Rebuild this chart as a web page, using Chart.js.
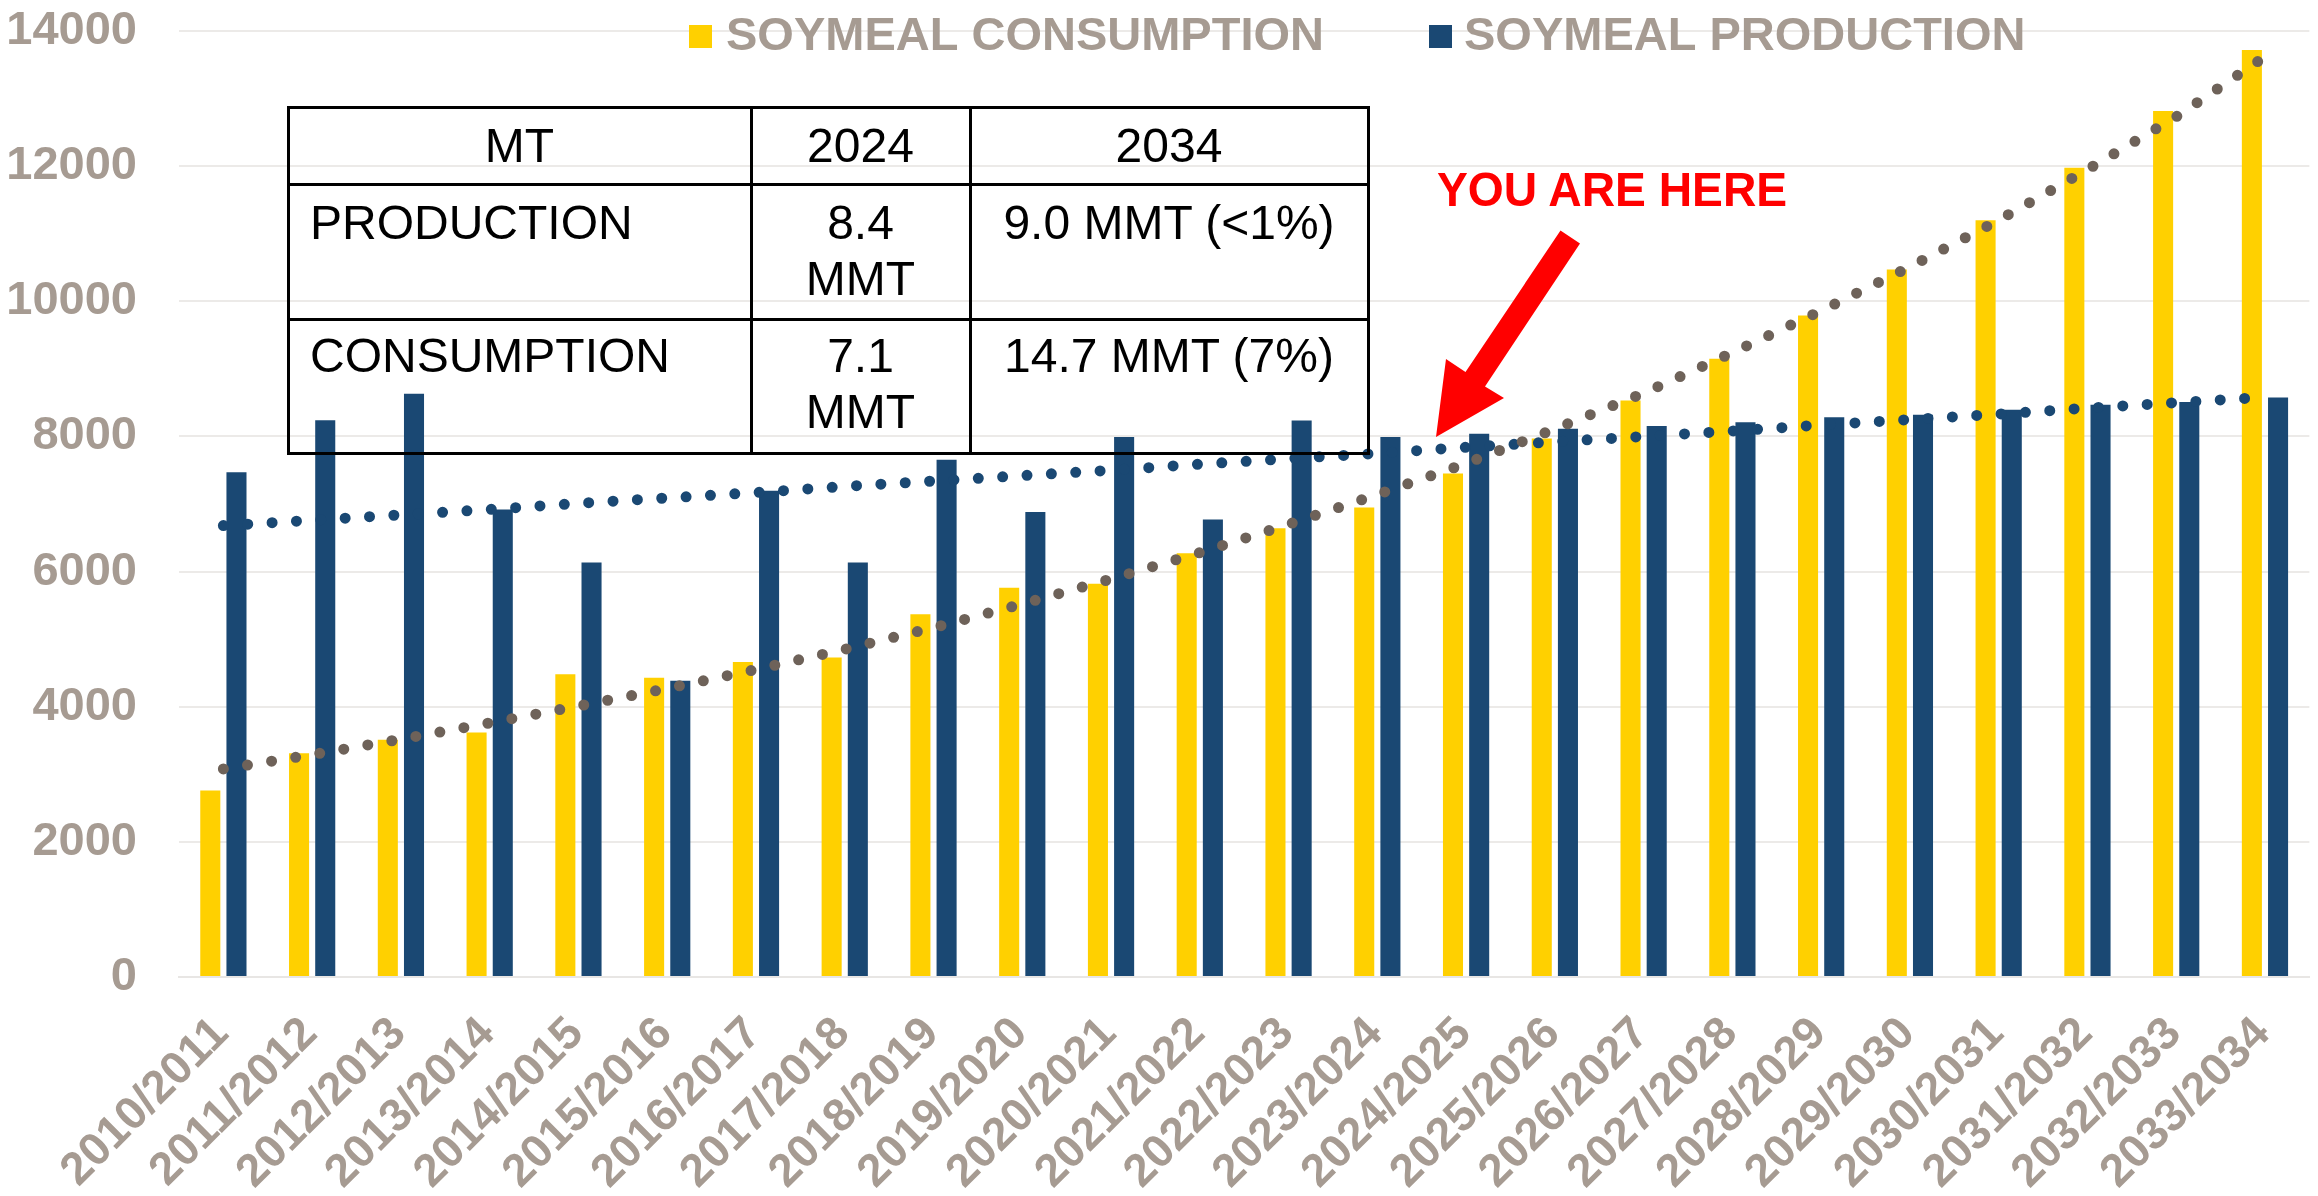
<!DOCTYPE html>
<html>
<head>
<meta charset="utf-8">
<script src="https://cdn.jsdelivr.net/npm/chart.js@4.4.1/dist/chart.umd.min.js"></script>
<style>
  html, body { margin: 0; padding: 0; overflow: hidden; background: #ffffff; }
  #wrap { position: relative; width: 2318px; height: 1196px; overflow: hidden; background: #fff; }
  #c { position: absolute; left: 0; top: 0; }
  .ln { position: absolute; background: #000; }
  .tx { position: absolute; font-family: "Liberation Sans", Arial, sans-serif; font-size: 48px; line-height: 56px; color: #000; white-space: nowrap; }
  .ctr { text-align: center; }
  #here { position: absolute; left: 1437px; top: 162px; font-family: "Liberation Sans", Arial, sans-serif; font-weight: bold; font-size: 48px; line-height: 56px; color: #ff0000; white-space: nowrap; transform: scaleX(0.963); transform-origin: left top; }
  #arrow { position: absolute; left: 0; top: 0; }
</style>
</head>
<body>
<div id="wrap">
  <canvas id="c" width="2334" height="1196"></canvas>

  <!-- summary table -->
  <div class="ln" style="left:287px;top:106px;width:1083px;height:3px;"></div>
  <div class="ln" style="left:287px;top:183px;width:1083px;height:3px;"></div>
  <div class="ln" style="left:287px;top:318px;width:1083px;height:3px;"></div>
  <div class="ln" style="left:287px;top:452px;width:1083px;height:3px;"></div>
  <div class="ln" style="left:287px;top:106px;width:3px;height:349px;"></div>
  <div class="ln" style="left:750px;top:106px;width:3px;height:349px;"></div>
  <div class="ln" style="left:969px;top:106px;width:3px;height:349px;"></div>
  <div class="ln" style="left:1367px;top:106px;width:3px;height:349px;"></div>

  <div class="tx ctr" style="left:288px;width:463px;top:118px;">MT</div>
  <div class="tx ctr" style="left:751px;width:219px;top:118px;">2024</div>
  <div class="tx ctr" style="left:970px;width:398px;top:118px;">2034</div>

  <div class="tx" style="left:310px;top:195px;">PRODUCTION</div>
  <div class="tx ctr" style="left:751px;width:219px;top:195px;">8.4<br>MMT</div>
  <div class="tx ctr" style="left:970px;width:398px;top:195px;">9.0 MMT (&lt;1%)</div>

  <div class="tx" style="left:310px;top:328px;">CONSUMPTION</div>
  <div class="tx ctr" style="left:751px;width:219px;top:328px;">7.1<br>MMT</div>
  <div class="tx ctr" style="left:970px;width:398px;top:328px;">14.7 MMT (7%)</div>

  <div id="here">YOU ARE HERE</div>
  <svg id="arrow" width="2318" height="1196">
    <polygon fill="#ff0000" points="1436,437 1504,398 1485,386.5 1580,243.5 1560.5,230.5 1465.5,372 1446,359"/>
  </svg>
</div>

<script>
const categories = ['2010/2011','2011/2012','2012/2013','2013/2014','2014/2015','2015/2016','2016/2017','2017/2018','2018/2019','2019/2020','2020/2021','2021/2022','2022/2023','2023/2024','2024/2025','2025/2026','2026/2027','2027/2028','2028/2029','2029/2030','2030/2031','2031/2032','2032/2033','2033/2034'];
const seriesNames = ['SOYMEAL CONSUMPTION', 'SOYMEAL PRODUCTION'];
const consumption = [2760, 3310, 3510, 3620, 4480, 4430, 4660, 4730, 5370, 5760, 5820, 6270, 6640, 6950, 7450, 7970, 8530, 9150, 9790, 10470, 11200, 11975, 12815, 13720];
const production = [7470, 8240, 8630, 6920, 6135, 4385, 7195, 6135, 7655, 6880, 7990, 6770, 8235, 7990, 8040, 8115, 8155, 8210, 8285, 8320, 8395, 8470, 8510, 8575];
const consumptionTrend = [3080, 3290, 3520, 3760, 4010, 4270, 4550, 4850, 5170, 5520, 5890, 6280, 6700, 7140, 7600, 8110, 8640, 9240, 9860, 10510, 11200, 11950, 12730, 13620];
const productionTrend = [6680, 6760, 6840, 6920, 7010, 7090, 7170, 7260, 7340, 7420, 7500, 7590, 7670, 7750, 7840, 7920, 8000, 8080, 8170, 8250, 8330, 8420, 8500, 8580];
const yTicks = [0, 2000, 4000, 6000, 8000, 10000, 12000, 14000];

const YELLOW = '#FFD000';
const BLUE = '#1A4873';
const TREND_GRAY = '#6E6259';
const LABEL_COLOR = '#A69B92';
const FONT = '"Liberation Sans", Arial, sans-serif';

const legendPlugin = {
  id: 'customLegend',
  afterDraw(chart) {
    const ctx = chart.ctx;
    const bars = chart.data.datasets.filter(d => d.type === 'bar');
    const spots = [{box: 689, text: 726}, {box: 1429, text: 1464}];
    ctx.save();
    ctx.font = 'bold 47px ' + FONT;
    ctx.textBaseline = 'alphabetic';
    ctx.textAlign = 'left';
    bars.forEach((d, i) => {
      ctx.fillStyle = d.backgroundColor;
      ctx.fillRect(spots[i].box, 25, 23, 23);
      ctx.fillStyle = LABEL_COLOR;
      ctx.fillText(d.label, spots[i].text, 49.5);
    });
    ctx.restore();
  }
};

new Chart(document.getElementById('c'), {
  type: 'bar',
  data: {
    labels: categories,
    datasets: [
      { type: 'line', label: 'consumption trend', data: consumptionTrend, borderColor: TREND_GRAY, borderWidth: 11,
        borderDash: [0, 24.4], borderCapStyle: 'round', pointRadius: 0, fill: false, tension: 0, order: 0 },
      { type: 'line', label: 'production trend', data: productionTrend, borderColor: BLUE, borderWidth: 11,
        borderDash: [0, 24.4], borderCapStyle: 'round', pointRadius: 0, fill: false, tension: 0, order: 0 },
      { type: 'bar', label: seriesNames[0], data: consumption, backgroundColor: YELLOW, order: 1,
        categoryPercentage: 0.59, barPercentage: 0.766 },
      { type: 'bar', label: seriesNames[1], data: production, backgroundColor: BLUE, order: 1,
        categoryPercentage: 0.59, barPercentage: 0.766 }
    ]
  },
  options: {
    responsive: false,
    animation: false,
    devicePixelRatio: 1,
    layout: { padding: { top: 31, left: 0, right: 0, bottom: 0 } },
    plugins: { legend: { display: false }, tooltip: { enabled: false } },
    scales: {
      x: {
        grid: { display: false, drawTicks: false, tickLength: 0 },
        border: { display: true, color: '#E8E6E4', width: 2 },
        ticks: { font: { family: FONT, size: 46, weight: 'bold' }, color: LABEL_COLOR,
                 minRotation: 45, maxRotation: 45, autoSkip: false, padding: 30, labelOffset: -2 },
        afterFit(s) { s.height = 219; }
      },
      y: {
        min: yTicks[0], max: yTicks[yTicks.length - 1],
        grid: { color: '#ECEAE8', lineWidth: 2, drawTicks: false, tickLength: 0 },
        border: { display: false },
        afterBuildTicks(s) { s.ticks = yTicks.map(v => ({ value: v })); },
        ticks: { font: { family: FONT, size: 47, weight: 'bold' }, color: LABEL_COLOR, padding: 42,
                 callback: v => String(v) },
        afterFit(s) { s.width = 179; s.paddingTop = 0; s.paddingBottom = 0; }
      }
    }
  },
  plugins: [legendPlugin]
});
</script>
</body>
</html>
